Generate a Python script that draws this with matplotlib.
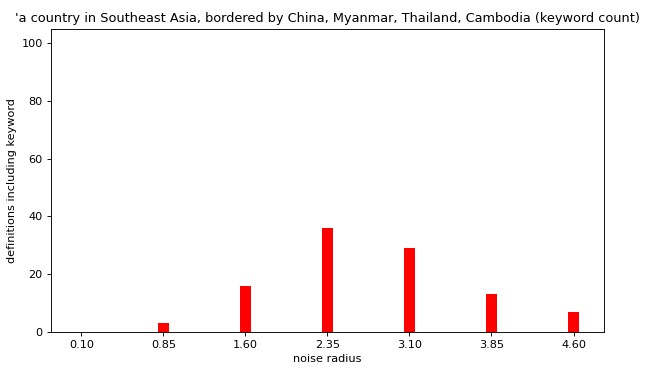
import numpy as np
import matplotlib
matplotlib.use('Agg')
import matplotlib.pyplot as plt

noise_radius = [0.10, 0.85, 1.60, 2.35, 3.10, 3.85, 4.60]
keyword_count = [0, 3, 16, 36, 29, 13, 7]
tick_labels = ['0.10', '0.85', '1.60', '2.35', '3.10', '3.85', '4.60']

DPI = 81.375
fig = plt.figure(figsize=(651 / DPI, 370 / DPI), dpi=DPI)
ax = fig.add_axes([0.078, 0.103, 0.850, 0.819])
ax.bar(noise_radius, keyword_count, width=0.1, color='red')
ax.set_xticks(noise_radius)
ax.set_xticklabels(tick_labels)
ax.set_ylim([0, 105])
ax.set_xlabel('noise radius')
ax.set_ylabel('definitions including keyword')
ax.set_title("'a country in Southeast Asia, bordered by China, Myanmar, Thailand, Cambodia (keyword count)",
             fontsize=11.45)

fig.savefig('out.png', dpi=DPI)
